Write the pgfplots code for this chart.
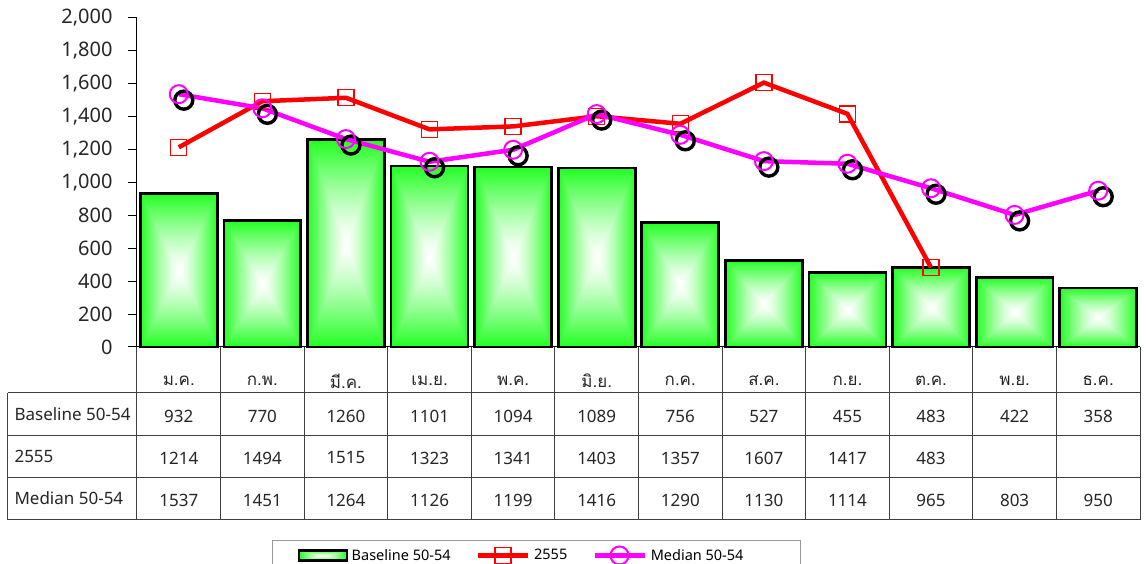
\documentclass[border=0pt]{standalone}
\usepackage{fontspec}
\setmainfont{Noto Sans}
\newfontfamily\thaifont[Script=Thai]{Loma}
\usepackage{pgfplots}
\usepackage{pgfplotstable}
\pgfplotsset{compat=1.18}

\definecolor{myred}{RGB}{255,0,0}
\definecolor{mymag}{RGB}{255,0,255}

\pgfdeclarefunctionalshading{boxgreen}{\pgfpoint{-50bp}{-50bp}}{\pgfpoint{50bp}{50bp}}{}{
 abs exch abs 2 copy lt {exch} if pop 25 div dup 1 gt {pop 1} if 1.3 exp 0.87 mul 1 exch sub dup 1 exch
}

\pgfplotsset{
  mylinelegend/.style={legend image code/.code={\draw[mark repeat=2, mark phase=2, ##1] plot coordinates {(0pt,0pt) (25pt,0pt) (50pt,0pt)};}},
  mybarlegend/.style={legend image code/.code={\draw[draw=black, line width=2.2pt, shading=boxgreen] (0pt,-5pt) rectangle (48pt,5pt);}},
}

\pgfplotstableread{
x base med
0 932 1537
1 770 1451
2 1260 1264
3 1101 1126
4 1094 1199
5 1089 1416
6 756 1290
7 527 1130
8 455 1114
9 483 965
10 422 803
11 358 950
}\maindata

\pgfplotstableread{
x yr
0 1214
1 1494
2 1515
3 1323
4 1341
5 1403
6 1357
7 1607
8 1417
9 483
}\yrdata

\begin{document}
\begin{tikzpicture}
\begin{axis}[
  at={(0pt,0pt)}, anchor=south west,
  scale only axis, width=1003pt, height=329pt,
  xmin=-0.5, xmax=11.5, ymin=0, ymax=2000,
  clip=false,
  axis x line*=bottom, axis y line*=left,
  axis line style={black, line width=1pt, -},
  ytick={0,200,...,2000},
  /pgf/number format/1000 sep={,},
  /pgf/number format/assume math mode=true,
  yticklabel style={font=\fontsize{20}{24}\selectfont, text=black!85, xshift=-12pt},
  tick align=outside, major tick length=9pt,
  ytick style={black, line width=1pt},
  xtick={0,...,11},
  xticklabels={{ม.ค.},{ก.พ.},{มี.ค.},{เม.ย.},{พ.ค.},{มิ.ย.},{ก.ค.},{ส.ค.},{ก.ย.},{ต.ค.},{พ.ย.},{ธ.ค.}},
  xtick style={draw=none},
  xticklabel style={font=\thaifont\fontsize{17}{20}\selectfont, anchor=center, yshift=-25pt, text=black!85},
  legend columns=3,
  legend style={at={(0.1346,-0.5866)}, anchor=north west, draw=black!40, line width=1pt,
     font=\fontsize{14.5}{17}\selectfont, inner xsep=25pt, inner ysep=6pt,
     /tikz/every even column/.append style={column sep=23pt}},
]
% legend image for bars
\addlegendimage{mybarlegend}
\addlegendentry{\rule{2pt}{0pt}Baseline 50-54}
% bars, one path each so that every bar gets its own shading
\pgfplotsinvokeforeach{0,...,11}{
  \addplot[forget plot, ybar, bar shift=0pt, bar width=0.92, draw=black, line width=2.7pt, shading=boxgreen,
    x filter/.expression={x==#1 ? x : nan}]
    table[x=x, y=base] {\maindata};
}
% 2555
\addplot[myred, line width=4.5pt, mark=square, mark size=8pt, mark options={line width=1.3pt, solid}, mylinelegend]
  table[x=x, y=yr] {\yrdata};
\addlegendentry{\rule{2pt}{0pt}2555}
% median shadow
\addplot[forget plot, only marks, mark=o, mark size=9pt, mark options={black, line width=3.4pt, xshift=5pt, yshift=-6pt}]
  table[x=x, y=med] {\maindata};
% median
\addplot[mymag, line width=4.5pt, mark=o, mark size=9pt, mark options={line width=2pt, solid}, mylinelegend]
  table[x=x, y=med] {\maindata};
\addlegendentry{\rule{2pt}{0pt}Median 50-54\rule{30pt}{0pt}}
% table values
\addplot[forget plot, draw=none, mark=none, nodes near coords, point meta=explicit symbolic,
  every node near coord/.append style={anchor=center, font=\fontsize{17}{20}\selectfont, yshift=-69pt, text=black!85}]
  table[x=x, y expr=0, meta=base] {\maindata};
\addplot[forget plot, draw=none, mark=none, nodes near coords, point meta=explicit symbolic,
  every node near coord/.append style={anchor=center, font=\fontsize{17}{20}\selectfont, yshift=-111pt, text=black!85}]
  table[x=x, y expr=0, meta=yr] {\yrdata};
\addplot[forget plot, draw=none, mark=none, nodes near coords, point meta=explicit symbolic,
  every node near coord/.append style={anchor=center, font=\fontsize{17}{20}\selectfont, yshift=-153pt, text=black!85}]
  table[x=x, y expr=0, meta=med] {\maindata};
\end{axis}
% table grid
\begin{scope}[black!75, line width=1pt]
\foreach \k in {0,...,12} {
  \draw ({\k*1003/12*1pt},0pt) -- ({\k*1003/12*1pt},-173pt);
}
\draw (-129pt,-46pt) -- (1003pt,-46pt);
\draw (-129pt,-89pt) -- (1003pt,-89pt);
\draw (-129pt,-131pt) -- (1003pt,-131pt);
\draw (-129pt,-173pt) -- (1003pt,-173pt);
\draw (-129pt,-46pt) -- (-129pt,-173pt);
\end{scope}
\begin{scope}[font=\fontsize{17}{20}\selectfont, text=black!85]
\node[anchor=west] at (-126pt,-67pt) {Baseline 50-54};
\node[anchor=west] at (-126pt,-109pt) {2555};
\node[anchor=west] at (-126pt,-151pt) {Median 50-54};
\end{scope}
\pgfresetboundingbox
\path[use as bounding box] (-137pt,-217pt) rectangle (1009pt,347pt);
\end{tikzpicture}
\end{document}
